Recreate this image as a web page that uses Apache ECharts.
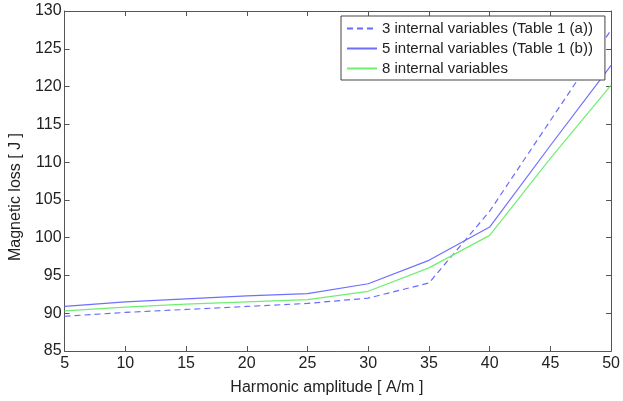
<!DOCTYPE html>
<html>
<head>
<meta charset="utf-8">
<script src="https://cdn.jsdelivr.net/npm/echarts@6/dist/echarts.min.js"></script>
<style>html,body{margin:0;padding:0;background:#fff;}#c{width:623px;height:401px;}</style>
</head>
<body>
<div id="c"></div>
<script>
const amplitudes = [5, 10, 15, 20, 25, 30, 35, 40, 45, 50];
const loss3 = [89.6, 90.1, 90.5, 90.9, 91.3, 92.0, 94.0, 103.5, 115.5, 127.5];
const loss5 = [90.9, 91.5, 91.9, 92.3, 92.6, 93.9, 97.0, 101.4, 112.2, 122.8];
const loss8 = [90.3, 90.8, 91.2, 91.5, 91.8, 92.9, 96.0, 100.3, 110.5, 120.2];
const seriesNames = ['3 internal variables (Table 1 (a))', '5 internal variables (Table 1 (b))', '8 internal variables'];

const pair = (ys) => amplitudes.map((x, i) => [x, ys[i]]);
const font = "'Liberation Sans', Arial, sans-serif";
const axisCol = '#555';
const txtCol = '#222';

const chart = echarts.init(document.getElementById('c'));
const baseX = {
  type: 'value', min: 5, max: 50, interval: 5,
  axisLine: { show: true, lineStyle: { color: axisCol, width: 1 } },
  axisTick: { show: true, inside: true, length: 5, lineStyle: { color: axisCol } },
  splitLine: { show: false }
};
const baseY = {
  type: 'value', min: 85, max: 130, interval: 5,
  axisLine: { show: true, lineStyle: { color: axisCol, width: 1 } },
  axisTick: { show: true, inside: true, length: 5, lineStyle: { color: axisCol } },
  splitLine: { show: false }
};
chart.setOption({
  animation: false,
  textStyle: { fontFamily: font },
  grid: { left: 64, right: 7, top: 11, bottom: 50 },
  xAxis: [
    Object.assign({}, baseX, {
      position: 'bottom',
      name: 'Harmonic amplitude [ A/m ]', nameLocation: 'middle', nameGap: 29,
      nameTextStyle: { fontSize: 16, color: txtCol, fontFamily: font, padding: [0, 22, 0, 0] },
      axisLabel: { fontSize: 16, color: txtCol, margin: 5, fontFamily: font }
    }),
    Object.assign({}, baseX, { position: 'top', axisLabel: { show: false } })
  ],
  yAxis: [
    Object.assign({}, baseY, {
      position: 'left',
      name: 'Magnetic loss [ J ]', nameLocation: 'middle', nameGap: 35,
      nameTextStyle: { fontSize: 16, color: txtCol, fontFamily: font, padding: [0, 32, 0, 0] },
      axisLabel: { fontSize: 16, color: txtCol, margin: 3, fontFamily: font }
    }),
    Object.assign({}, baseY, { position: 'right', axisLabel: { show: false } })
  ],
  legend: {
    orient: 'vertical', left: 341, top: 16,
    itemWidth: 30, itemHeight: 14, itemGap: 5,
    padding: [5, 12, 4, 5],
    borderColor: '#444', borderWidth: 1,
    backgroundColor: '#fff',
    itemStyle: { opacity: 0 },
    textStyle: { fontSize: 15, color: txtCol, fontFamily: font },
    data: seriesNames
  },
  series: [
    {
      name: seriesNames[0], type: 'line', data: pair(loss3), symbol: 'none',
      lineStyle: { color: '#6a6aff', width: 1.2, type: [6, 4] }, itemStyle: { color: '#6a6aff' }
    },
    {
      name: seriesNames[1], type: 'line', data: pair(loss5), symbol: 'none',
      lineStyle: { color: '#6f6fff', width: 1.2 }, itemStyle: { color: '#6f6fff' }
    },
    {
      name: seriesNames[2], type: 'line', data: pair(loss8), symbol: 'none',
      lineStyle: { color: '#70ee70', width: 1.2 }, itemStyle: { color: '#70ee70' }
    }
  ]
});
</script>
</body>
</html>
